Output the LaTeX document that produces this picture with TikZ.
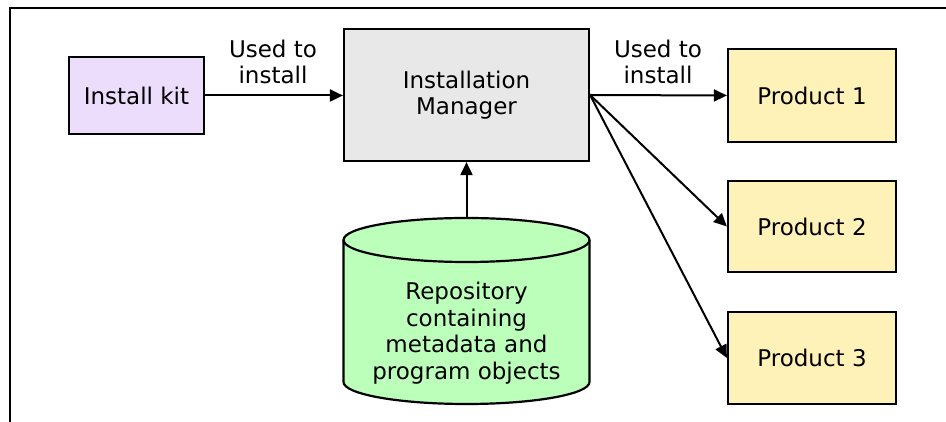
\documentclass[tikz,border=0pt]{standalone}
\usepackage{fontspec}
\setmainfont{DejaVu Sans}
\usetikzlibrary{arrows.meta}
\definecolor{kitfill}{HTML}{EBDDFB}
\definecolor{imfill}{HTML}{E8E8E8}
\definecolor{prodfill}{HTML}{FFF2B8}
\definecolor{repofill}{HTML}{BBFFBB}
\tikzset{
  box/.style={draw=black, line width=2.2pt, minimum width=#1, inner sep=0pt, align=center,
    font=\fontsize{23}{26.5}\selectfont},
  lbl/.style={align=center, inner sep=0pt, font=\fontsize{23}{26.5}\selectfont},
  conn/.style={line width=2pt, -{Triangle[length=13pt,width=12pt]}},
}
\begin{document}
\begin{tikzpicture}[x=1pt,y=1pt]
\useasboundingbox (0,0) rectangle (946,422);
\draw[line width=1.6pt] (946,414) -- (10,414) -- (10,0);
% boxes
\node[box=135pt, fill=kitfill, minimum height=77pt] (kit) at (136.5,326.5) {Install kit};
\node[box=245pt, fill=imfill, minimum height=132pt] (im) at (466.5,327) {Installation\\Manager};
\node[box=168pt, fill=prodfill, minimum height=93pt] (p1) at (812,326.5) {Product 1};
\node[box=168pt, fill=prodfill, minimum height=91pt] (p2) at (812,195.5) {Product 2};
\node[box=168pt, fill=prodfill, minimum height=92pt] (p3) at (812,64) {Product 3};
% cylinder
\filldraw[fill=repofill, draw=black, line width=2.2pt]
  (343.5,182) -- (343.5,40) arc (180:360:123 and 22) -- (589.5,182) arc (0:180:123 and 22) -- cycle;
\draw[line width=2.2pt] (343.5,182) arc (180:360:123 and 22);
\coordinate (repotop) at (466.5,204);
\node[lbl] (repo) at (466.5,89) {Repository\\containing\\metadata and\\program objects};
% labels
\node[lbl] (l1) at (273,360) {Used to\\install};
\node[lbl] (l2) at (658,360) {Used to\\install};
% connectors
\draw[conn] (kit.east) -- (kit.east -| im.west);
\draw[conn] (im.east) -- (p1.west);
\draw[conn] (im.east) -- (p2.west);
\draw[conn] (im.east) -- (p3.west);
\draw[conn] (repotop) -- (im.south);
\end{tikzpicture}
\end{document}
